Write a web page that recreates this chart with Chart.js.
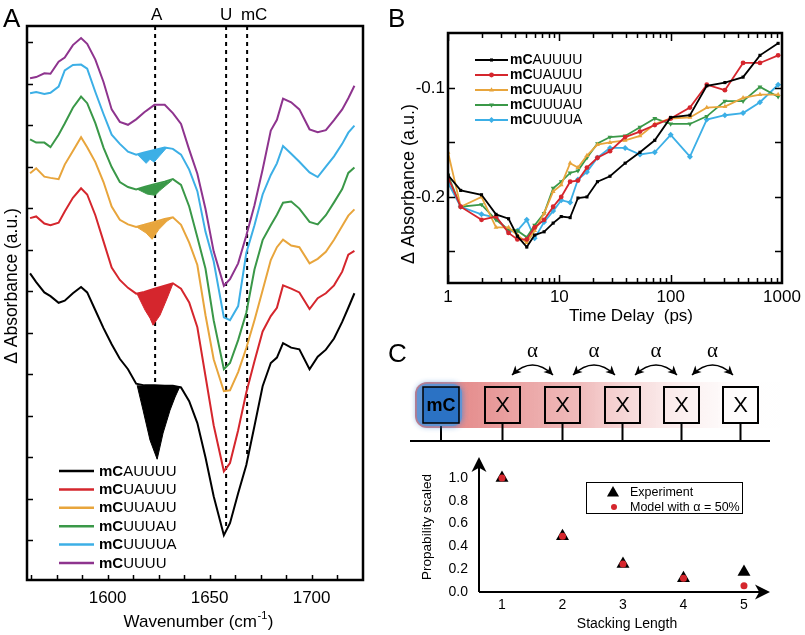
<!DOCTYPE html>
<html>
<head>
<meta charset="utf-8">
<script src="https://cdn.jsdelivr.net/npm/chart.js@4.4.1/dist/chart.umd.min.js"></script>
<style>
  html, body { margin: 0; padding: 0; background: #fff; }
  #wrap { position: relative; width: 805px; height: 635px; overflow: hidden; }
  canvas { position: absolute; }
  #chartA { left: 0; top: 0; }
  #chartB { left: 385px; top: 0; }
  #chartC { left: 385px; top: 330px; }
</style>
</head>
<body>
<div id="wrap">
  <canvas id="chartA" width="390" height="635"></canvas>
  <canvas id="chartB" width="420" height="330"></canvas>
  <canvas id="chartC" width="420" height="305"></canvas>
</div>
<script>
// ---------- panel A: IR difference spectra (offset, arbitrary units) ----------
var wavenumbers = [1562, 1565, 1569, 1572, 1576, 1579, 1583, 1587, 1590, 1594, 1598, 1602, 1606, 1610,
  1614, 1618, 1623, 1628, 1632, 1636, 1640, 1644, 1648, 1652, 1657, 1660, 1664, 1668, 1672, 1676,
  1680, 1683, 1686, 1690, 1694, 1699, 1703, 1707, 1711, 1715, 1718, 1721];

var irAUUUU = [6.43, 6.22, 5.97, 5.88, 5.72, 5.77, 5.95, 6.10, 5.97, 5.54, 5.11, 4.72, 4.37, 4.12,
  3.77, 3.73, 3.73, 3.72, 3.72, 3.68, 3.35, 2.82, 1.99, 1.06, 0.12, 0.41, 1.13, 1.81, 2.75, 3.71,
  4.27, 4.40, 4.75, 4.64, 4.60, 4.12, 4.42, 4.59, 4.86, 5.26, 5.60, 5.95];
var irUAUUU = [7.76, 7.80, 7.63, 7.59, 7.65, 7.92, 8.25, 8.48, 8.33, 7.83, 7.20, 6.57, 6.27, 6.08,
  5.94, 5.98, 6.06, 6.13, 6.19, 6.06, 5.73, 5.13, 3.95, 2.77, 1.66, 1.86, 2.65, 3.56, 4.31, 5.03,
  5.40, 5.60, 6.14, 6.06, 5.97, 5.57, 5.83, 5.95, 6.14, 6.47, 6.88, 6.97];
var irUUAUU = [8.84, 8.96, 8.76, 8.73, 8.70, 9.05, 9.38, 9.71, 9.47, 9.11, 8.63, 8.04, 7.72, 7.61,
  7.55, 7.60, 7.67, 7.74, 7.78, 7.60, 7.17, 6.63, 5.42, 4.36, 3.59, 3.61, 4.05, 4.63, 5.30, 6.02,
  6.75, 7.06, 7.24, 7.10, 7.06, 6.67, 6.78, 6.95, 7.24, 7.57, 7.82, 7.97];
var irUUUAU = [9.66, 9.58, 9.58, 9.47, 9.77, 10.04, 10.42, 10.69, 10.53, 10.05, 9.46, 8.99, 8.63, 8.51,
  8.45, 8.51, 8.58, 8.64, 8.70, 8.56, 8.04, 7.30, 6.54, 5.30, 4.12, 4.27, 4.82, 5.48, 6.52, 7.23,
  7.59, 7.84, 8.13, 8.16, 7.99, 7.67, 7.61, 7.83, 8.14, 8.46, 8.85, 8.98];
var irUUUUA = [10.77, 10.80, 10.75, 10.78, 10.93, 11.32, 11.45, 11.46, 11.36, 10.80, 10.27, 9.77, 9.55, 9.36,
  9.29, 9.34, 9.40, 9.46, 9.43, 9.29, 8.93, 8.41, 7.43, 6.72, 5.37, 5.30, 5.64, 6.92, 7.59, 8.33,
  8.80, 9.08, 9.50, 9.31, 9.12, 8.86, 8.75, 9.00, 9.25, 9.55, 9.82, 9.99];
var irUUUU = [11.13, 11.16, 11.25, 11.24, 11.53, 11.63, 11.93, 12.10, 11.96, 11.58, 11.04, 10.38, 10.08, 10.01,
  10.14, 10.31, 10.49, 10.49, 10.29, 10.03, 9.41, 8.83, 7.98, 6.96, 6.13, 6.29, 6.67, 7.34, 8.07, 8.93,
  9.87, 10.13, 10.64, 10.55, 10.38, 9.90, 9.83, 9.88, 10.12, 10.38, 10.65, 10.95];

// adenine band shading [wavenumber, value]
var dipAUUUU = [[1614.5, 3.73], [1617.4, 3.13], [1620.8, 2.41], [1624.3, 1.95], [1627.2, 2.58], [1630.6, 3.13], [1633.1, 3.45], [1635.5, 3.71]];
var dipUAUUU = [[1614.5, 5.93], [1618.4, 5.54], [1620.8, 5.35], [1622.3, 5.18], [1625.7, 5.42], [1629.2, 5.83], [1632.1, 6.19]];
var dipUUAUU = [[1614.5, 7.54], [1618.9, 7.40], [1621.8, 7.25], [1625.2, 7.49], [1629.2, 7.69], [1632.1, 7.78]];
var dipUUUAU = [[1614.5, 8.46], [1619.4, 8.34], [1623.3, 8.31], [1625.7, 8.43], [1631.6, 8.67]];
var dipUUUUA = [[1614.5, 9.30], [1618.9, 9.08], [1620.8, 9.18], [1622.8, 9.11], [1629.2, 9.47]];

var bandLabels = ["A", "U", "mC"];
var bandPositions = [1623.3, 1658.1, 1668.4];
var bandLineEnds = [3.73, 0.24, 2.0];
var wavenumberTicks = [1600, 1650, 1700];

// ---------- panel B: kinetics ----------
var delays = [1, 1.3, 2, 2.7, 3.5, 4.2, 5.1, 6, 7.3, 8.8, 10.4, 12.5, 14.7, 17.7, 22, 28.5, 39, 53, 72, 100, 149, 211, 307, 447, 634, 923];
var kinAUUUU = [-0.180, -0.194, -0.198, -0.216, -0.220, -0.236, -0.246, -0.235, -0.232, -0.224, -0.218, -0.219, -0.201, -0.200, -0.186, -0.181, -0.169, -0.159, -0.148, -0.127, -0.125, -0.098, -0.095, -0.090, -0.070, -0.059];
var kinUAUUU = [-0.182, -0.209, -0.221, -0.218, -0.233, -0.239, -0.239, -0.228, -0.221, -0.209, -0.200, -0.186, -0.185, -0.173, -0.164, -0.158, -0.145, -0.140, -0.134, -0.128, -0.118, -0.097, -0.102, -0.077, -0.077, -0.070];
var kinUUAUU = [-0.159, -0.209, -0.200, -0.228, -0.228, -0.235, -0.242, -0.231, -0.215, -0.195, -0.189, -0.169, -0.173, -0.162, -0.152, -0.150, -0.148, -0.144, -0.133, -0.128, -0.127, -0.118, -0.117, -0.109, -0.106, -0.106];
var kinUUUAU = [-0.180, -0.209, -0.207, -0.221, -0.230, -0.231, -0.237, -0.226, -0.215, -0.192, -0.186, -0.178, -0.176, -0.164, -0.151, -0.145, -0.144, -0.136, -0.128, -0.133, -0.133, -0.126, -0.112, -0.112, -0.099, -0.108];
var kinUUUUA = [-0.187, -0.209, -0.216, -0.219, -0.232, -0.231, -0.221, -0.238, -0.223, -0.213, -0.203, -0.205, -0.184, -0.177, -0.164, -0.155, -0.155, -0.161, -0.159, -0.143, -0.163, -0.129, -0.125, -0.123, -0.113, -0.097];
var absTicks = [-0.25, -0.2, -0.15, -0.1];
var absTickLabels = [-0.2, -0.1];
var delayTickLabels = [1, 10, 100, 1000];

// ---------- panel C: stacking probability ----------
var stackLength = [1, 2, 3, 4, 5];
var probExperiment = [1.0, 0.49, 0.245, 0.12, 0.175];
var probModel = [1.0, 0.49, 0.245, 0.12, 0.055];
var probTicks = [0, 0.2, 0.4, 0.6, 0.8, 1.0];

// ---------- styles ----------
var FONT = "'Liberation Sans', Arial, Helvetica, sans-serif";
var BLACK = "#000000", RED = "#d5262d", ORANGE = "#e8a53c", GREEN = "#3a9848", BLUE = "#3cafe6", PURPLE = "#8e348e";
Chart.defaults.font.family = FONT;

function pts(xs, ys) {
  return xs.map(function (x, i) { return { x: x, y: ys[i] }; });
}
function pairs(arr) {
  return arr.map(function (p) { return { x: p[0], y: p[1] }; });
}
function seqLabel(ctx, x, y, rest, size) {
  ctx.textAlign = "left";
  ctx.font = "bold " + size + "px " + FONT;
  ctx.fillText("mC", x, y);
  var w = ctx.measureText("mC").width;
  ctx.font = size + "px " + FONT;
  ctx.fillText(rest, x + w, y);
}
function arrowHead(ctx, x, y, angle, len, half) {
  ctx.save();
  ctx.translate(x, y);
  ctx.rotate(angle);
  ctx.beginPath();
  ctx.moveTo(0, 0);
  ctx.lineTo(-len, -half);
  ctx.lineTo(-len * 0.72, 0);
  ctx.lineTo(-len, half);
  ctx.closePath();
  ctx.fill();
  ctx.restore();
}
function roundRect(ctx, x, y, w, h, r) {
  ctx.beginPath();
  ctx.moveTo(x + r, y);
  ctx.lineTo(x + w - r, y);
  ctx.arcTo(x + w, y, x + w, y + r, r);
  ctx.lineTo(x + w, y + h - r);
  ctx.arcTo(x + w, y + h, x + w - r, y + h, r);
  ctx.lineTo(x + r, y + h);
  ctx.arcTo(x, y + h, x, y + h - r, r);
  ctx.lineTo(x, y + r);
  ctx.arcTo(x, y, x + r, y, r);
  ctx.closePath();
}

// ================= Panel A =================
var seriesA = [
  { rest: "AUUUU", values: irAUUUU, dip: dipAUUUU, color: BLACK },
  { rest: "UAUUU", values: irUAUUU, dip: dipUAUUU, color: RED },
  { rest: "UUAUU", values: irUUAUU, dip: dipUUAUU, color: ORANGE },
  { rest: "UUUAU", values: irUUUAU, dip: dipUUUAU, color: GREEN },
  { rest: "UUUUA", values: irUUUUA, dip: dipUUUUA, color: BLUE },
  { rest: "UUUU", values: irUUUU, dip: null, color: PURPLE }
];

var datasetsA = [];
seriesA.forEach(function (s) {
  datasetsA.push({
    data: pts(wavenumbers, s.values),
    borderColor: s.color, borderWidth: 2, pointRadius: 0, fill: false
  });
  if (s.dip) {
    datasetsA.push({
      data: pairs(s.dip),
      borderColor: s.color, backgroundColor: s.color, borderWidth: 1,
      pointRadius: 0, fill: "shape"
    });
  }
});
var yTopA = 12.39;
bandPositions.forEach(function (p, i) {
  datasetsA.push({
    data: [{ x: p, y: yTopA }, { x: p, y: bandLineEnds[i] }],
    borderColor: BLACK, borderWidth: 2, borderDash: [4, 4], pointRadius: 0, fill: false
  });
});

var overlayA = {
  id: "overlayA",
  afterDraw: function (chart) {
    var ctx = chart.ctx, a = chart.chartArea, xs = chart.scales.x, ys = chart.scales.y;
    ctx.save();
    ctx.strokeStyle = BLACK;
    ctx.fillStyle = BLACK;
    ctx.lineWidth = 2.5;
    ctx.strokeRect(a.left, a.top, a.right - a.left, a.bottom - a.top);

    ctx.lineWidth = 1.5;
    ctx.beginPath();
    for (var w = 1562.5; w < 1725; w += 12.5) {
      var px = Math.round(xs.getPixelForValue(w)) + 0.5;
      ctx.moveTo(px, a.bottom);
      ctx.lineTo(px, a.bottom - 5);
    }
    for (var v = 0; v <= 12; v++) {
      var py = Math.round(ys.getPixelForValue(v)) + 0.5;
      ctx.moveTo(a.left, py);
      ctx.lineTo(a.left + 6, py);
    }
    ctx.stroke();

    ctx.font = "17px " + FONT;
    ctx.textAlign = "center";
    ctx.textBaseline = "alphabetic";
    wavenumberTicks.forEach(function (t) {
      ctx.fillText(String(t), xs.getPixelForValue(t), 603);
    });

    // x title with superscript
    var main = "Wavenumber (cm", sup = "-1", end = ")";
    ctx.font = "17px " + FONT;
    var w1 = ctx.measureText(main).width, w3 = ctx.measureText(end).width;
    ctx.font = "11px " + FONT;
    var w2 = ctx.measureText(sup).width;
    var x0 = 198 - (w1 + w2 + w3) / 2;
    ctx.textAlign = "left";
    ctx.font = "17px " + FONT;
    ctx.fillText(main, x0, 627);
    ctx.fillText(end, x0 + w1 + w2 + 1, 627);
    ctx.font = "11px " + FONT;
    ctx.fillText(sup, x0 + w1 + 0.5, 619);

    // y title
    ctx.save();
    ctx.translate(12, 286);
    ctx.rotate(-Math.PI / 2);
    ctx.font = "17.5px " + FONT;
    ctx.textAlign = "center";
    ctx.textBaseline = "middle";
    ctx.fillText("\u0394 Absorbance (a.u.)", 0, 0);
    ctx.restore();

    // band labels above the frame
    ctx.font = "17px " + FONT;
    ctx.textAlign = "center";
    var labelShift = [1.5, 0, 7];
    bandLabels.forEach(function (l, i) {
      ctx.fillText(l, xs.getPixelForValue(bandPositions[i]) + labelShift[i], 20);
    });

    // legend
    seriesA.forEach(function (s, i) {
      var y = 471 + i * 18.4;
      ctx.strokeStyle = s.color;
      ctx.lineWidth = 2.5;
      ctx.beginPath();
      ctx.moveTo(59, y);
      ctx.lineTo(94, y);
      ctx.stroke();
      ctx.fillStyle = BLACK;
      ctx.textBaseline = "middle";
      seqLabel(ctx, 99, y + 0.5, s.rest, 15);
    });

    // panel letter
    ctx.font = "26px " + FONT;
    ctx.textAlign = "left";
    ctx.textBaseline = "alphabetic";
    ctx.fillText("A", 3, 27);
    ctx.restore();
  }
};

new Chart(document.getElementById("chartA").getContext("2d"), {
  type: "line",
  data: { datasets: datasetsA },
  options: {
    responsive: false, animation: false, events: [],
    layout: { padding: { left: 27, right: 27, top: 26, bottom: 55 } },
    plugins: { legend: { display: false }, tooltip: { enabled: false } },
    scales: {
      x: { type: "linear", display: false, min: 1560.5, max: 1725.2 },
      y: { type: "linear", display: false, min: -0.96, max: yTopA }
    }
  },
  plugins: [overlayA]
});

// ================= Panel B =================
var seriesB = [
  { rest: "AUUUU", values: kinAUUUU, color: BLACK, style: "rect", radius: 2.2, rot: 0 },
  { rest: "UAUUU", values: kinUAUUU, color: RED, style: "circle", radius: 2.4, rot: 0 },
  { rest: "UUAUU", values: kinUUAUU, color: ORANGE, style: "triangle", radius: 2.8, rot: 0 },
  { rest: "UUUAU", values: kinUUUAU, color: GREEN, style: "triangle", radius: 2.8, rot: 180 },
  { rest: "UUUUA", values: kinUUUUA, color: BLUE, style: "rectRot", radius: 3, rot: 0 }
];

var overlayB = {
  id: "overlayB",
  afterDraw: function (chart) {
    var ctx = chart.ctx, a = chart.chartArea, xs = chart.scales.x, ys = chart.scales.y;
    ctx.save();
    ctx.strokeStyle = BLACK;
    ctx.fillStyle = BLACK;
    ctx.lineWidth = 2.5;
    ctx.strokeRect(a.left, a.top, a.right - a.left, a.bottom - a.top);

    ctx.lineWidth = 1.5;
    ctx.beginPath();
    absTicks.forEach(function (v) {
      var py = Math.round(ys.getPixelForValue(v)) + 0.5;
      ctx.moveTo(a.left, py); ctx.lineTo(a.left + 7, py);
      ctx.moveTo(a.right, py); ctx.lineTo(a.right - 7, py);
    });
    for (var d = 1; d < 1000; d *= 10) {
      for (var m = 1; m <= 9; m++) {
        var px = Math.round(xs.getPixelForValue(m * d)) + 0.5;
        var len = m === 1 ? 8 : 5;
        ctx.moveTo(px, a.bottom); ctx.lineTo(px, a.bottom - len);
        ctx.moveTo(px, a.top); ctx.lineTo(px, a.top + len);
      }
    }
    ctx.stroke();

    ctx.font = "17px " + FONT;
    ctx.textAlign = "right";
    ctx.textBaseline = "middle";
    absTickLabels.forEach(function (v) {
      ctx.fillText(String(v), a.left - 3, ys.getPixelForValue(v));
    });
    ctx.textAlign = "center";
    ctx.textBaseline = "alphabetic";
    delayTickLabels.forEach(function (v) {
      ctx.fillText(String(v), xs.getPixelForValue(v), 302);
    });
    ctx.fillText("Time Delay  (ps)", 246, 321);

    ctx.save();
    ctx.translate(24, 184);
    ctx.rotate(-Math.PI / 2);
    ctx.font = "18px " + FONT;
    ctx.textBaseline = "middle";
    ctx.fillText("\u0394 Absorbance (a.u.)", 0, 0);
    ctx.restore();

    // legend
    seriesB.forEach(function (s, i) {
      var y = 60 + i * 15;
      ctx.strokeStyle = s.color;
      ctx.fillStyle = s.color;
      ctx.lineWidth = 2.2;
      ctx.beginPath();
      ctx.moveTo(90, y); ctx.lineTo(123, y);
      ctx.stroke();
      Chart.helpers.drawPoint(ctx, { pointStyle: s.style, radius: s.radius, rotation: s.rot, borderWidth: 0 }, 106.5, y);
      ctx.fillStyle = BLACK;
      ctx.textBaseline = "middle";
      seqLabel(ctx, 125, y + 0.5, s.rest, 14);
    });

    ctx.fillStyle = BLACK;
    ctx.font = "26px " + FONT;
    ctx.textAlign = "left";
    ctx.textBaseline = "alphabetic";
    ctx.fillText("B", 3, 27);
    ctx.restore();
  }
};

new Chart(document.getElementById("chartB").getContext("2d"), {
  type: "line",
  data: {
    datasets: seriesB.map(function (s) {
      return {
        data: pts(delays, s.values),
        borderColor: s.color, backgroundColor: s.color, borderWidth: 1.8,
        pointStyle: s.style, pointRadius: s.radius, pointRotation: s.rot,
        pointBorderWidth: 0, fill: false
      };
    })
  },
  options: {
    responsive: false, animation: false, events: [],
    layout: { padding: { left: 63, right: 23, top: 33, bottom: 47 } },
    plugins: { legend: { display: false }, tooltip: { enabled: false } },
    scales: {
      x: { type: "logarithmic", display: false, min: 1, max: 1000 },
      y: { type: "linear", display: false, min: -0.279, max: -0.0495 }
    }
  },
  plugins: [overlayB]
});

// ================= Panel C =================
var overlayC = {
  id: "overlayC",
  beforeDatasetsDraw: function (chart) {
    var ctx = chart.ctx, a = chart.chartArea;
    ctx.save();
    ctx.strokeStyle = BLACK;
    ctx.fillStyle = BLACK;
    ctx.lineWidth = 2;
    ctx.beginPath();
    ctx.moveTo(a.left, a.bottom);
    ctx.lineTo(a.left, a.top + 8);
    ctx.moveTo(a.left, a.bottom);
    ctx.lineTo(a.right - 8, a.bottom);
    ctx.stroke();
    arrowHead(ctx, a.left, a.top, -Math.PI / 2, 15, 7.5);
    arrowHead(ctx, a.right, a.bottom, 0, 15, 7.5);
    ctx.restore();
  },
  afterDraw: function (chart) {
    var ctx = chart.ctx, a = chart.chartArea, xs = chart.scales.x, ys = chart.scales.y;
    ctx.save();
    ctx.fillStyle = BLACK;
    ctx.strokeStyle = BLACK;

    ctx.font = "14px " + FONT;
    ctx.textAlign = "right";
    ctx.textBaseline = "middle";
    probTicks.forEach(function (v) {
      ctx.fillText(v.toFixed(1), a.left - 11, ys.getPixelForValue(v));
    });
    ctx.textAlign = "center";
    ctx.textBaseline = "alphabetic";
    stackLength.forEach(function (v) {
      ctx.fillText(String(v), xs.getPixelForValue(v), 279);
    });
    ctx.fillText("Stacking Length", 242, 298);
    ctx.save();
    ctx.translate(42, 197);
    ctx.rotate(-Math.PI / 2);
    ctx.font = "13.5px " + FONT;
    ctx.textBaseline = "middle";
    ctx.fillText("Propability scaled", 0, 0);
    ctx.restore();

    // legend box
    ctx.lineWidth = 1;
    ctx.strokeRect(201.5, 152.5, 156, 31);
    ctx.fillStyle = BLACK;
    Chart.helpers.drawPoint(ctx, { pointStyle: "triangle", radius: 7, rotation: 0, borderWidth: 0 }, 228, 163);
    ctx.fillStyle = RED;
    Chart.helpers.drawPoint(ctx, { pointStyle: "circle", radius: 3, rotation: 0, borderWidth: 0 }, 229, 177);
    ctx.fillStyle = BLACK;
    ctx.font = "12.5px " + FONT;
    ctx.textAlign = "left";
    ctx.fillText("Experiment", 245, 166);
    ctx.fillText("Model with \u03b1 = 50%", 245, 181);

    // ---- stacking diagram ----
    var grad = ctx.createLinearGradient(30, 0, 395, 0);
    grad.addColorStop(0, "rgba(222,112,112,0.95)");
    grad.addColorStop(0.45, "rgba(236,170,170,0.8)");
    grad.addColorStop(1, "rgba(255,255,255,0)");
    ctx.fillStyle = grad;
    ctx.beginPath();
    ctx.moveTo(42, 52);
    ctx.lineTo(395, 52);
    ctx.lineTo(395, 98);
    ctx.lineTo(42, 98);
    ctx.arcTo(30, 98, 30, 86, 12);
    ctx.lineTo(30, 64);
    ctx.arcTo(30, 52, 42, 52, 12);
    ctx.closePath();
    ctx.fill();

    // baseline and stems
    ctx.strokeStyle = BLACK;
    ctx.lineWidth = 2;
    ctx.beginPath();
    ctx.moveTo(25, 111);
    ctx.lineTo(385, 111);
    var stems = [56, 117.5, 177.5, 237.5, 296.5, 355.5];
    stems.forEach(function (sx) {
      ctx.moveTo(sx, 93);
      ctx.lineTo(sx, 111);
    });
    ctx.stroke();

    // mC box with soft blue halo
    ctx.save();
    ctx.shadowColor = "rgba(70,135,210,0.9)";
    ctx.shadowBlur = 6;
    ctx.fillStyle = "rgb(96,148,212)";
    roundRect(ctx, 32, 54, 45, 42, 9);
    ctx.fill();
    ctx.restore();
    ctx.fillStyle = "#2b72c4";
    ctx.fillRect(38, 57, 36, 36);
    ctx.lineWidth = 1.5;
    ctx.strokeRect(38, 57, 36, 36);
    ctx.fillStyle = BLACK;
    ctx.font = "bold 18px " + FONT;
    ctx.textAlign = "center";
    ctx.textBaseline = "middle";
    ctx.fillText("mC", 56, 76);

    // X boxes
    ctx.lineWidth = 2;
    ctx.font = "22px " + FONT;
    [100, 160, 220, 279, 338].forEach(function (bx) {
      ctx.strokeRect(bx, 57, 35, 36);
      ctx.fillText("X", bx + 17.5, 76);
    });

    // alpha hopping arrows
    var arrowPairs = [[127, 168], [188, 230], [250, 292], [307, 348]];
    ctx.lineWidth = 1.5;
    ctx.font = "21px 'Liberation Serif', 'Times New Roman', serif";
    arrowPairs.forEach(function (p) {
      var mid = (p[0] + p[1]) / 2;
      ctx.beginPath();
      ctx.moveTo(p[0], 45);
      ctx.quadraticCurveTo(mid, 25, p[1], 45);
      ctx.stroke();
      arrowHead(ctx, p[0], 45, Math.atan2(20, p[0] - mid), 9, 4.5);
      arrowHead(ctx, p[1], 45, Math.atan2(20, p[1] - mid), 9, 4.5);
      ctx.fillText("\u03b1", mid, 21);
    });

    ctx.font = "26px " + FONT;
    ctx.textAlign = "left";
    ctx.textBaseline = "alphabetic";
    ctx.fillText("C", 3, 32);
    ctx.restore();
  }
};

new Chart(document.getElementById("chartC").getContext("2d"), {
  type: "scatter",
  data: {
    datasets: [
      {
        data: pts(stackLength, probModel),
        backgroundColor: RED, borderWidth: 0, pointStyle: "circle", pointRadius: 3.5
      },
      {
        data: pts(stackLength, probExperiment),
        backgroundColor: BLACK, borderWidth: 0, pointStyle: "triangle", pointRadius: 7.5
      }
    ]
  },
  options: {
    responsive: false, animation: false, events: [],
    layout: { padding: { left: 94, right: 35, top: 127, bottom: 43 } },
    plugins: { legend: { display: false }, tooltip: { enabled: false } },
    scales: {
      x: { type: "linear", display: false, min: 0.62, max: 5.43 },
      y: { type: "linear", display: false, min: 0, max: 1.184 }
    }
  },
  plugins: [overlayC]
});
</script>
</body>
</html>
